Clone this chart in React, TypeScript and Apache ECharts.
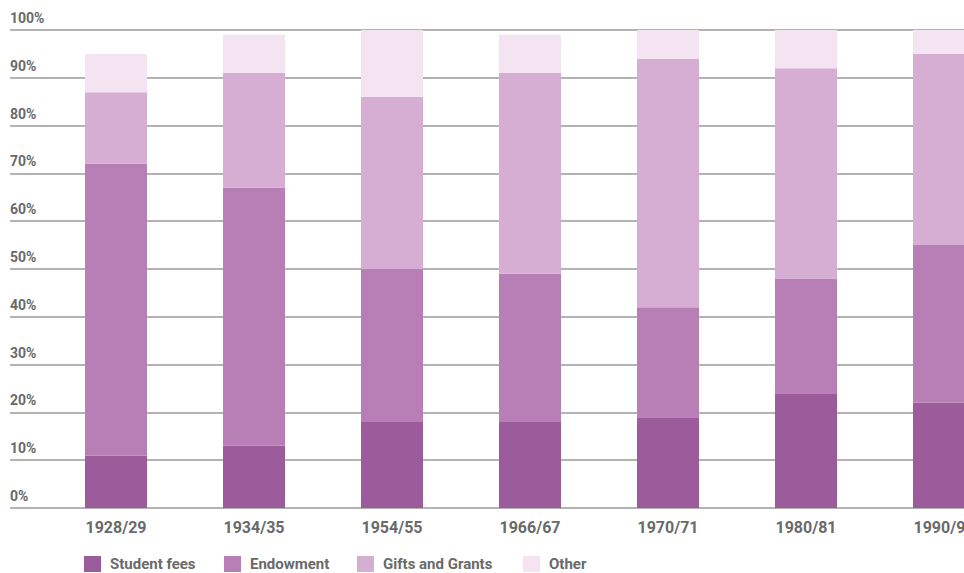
import React, { useEffect, useRef } from "react";
import * as echarts from "echarts";

const years = ["1928/29", "1934/35", "1954/55", "1966/67", "1970/71", "1980/81", "1990/91"];
const studentFees = [11, 13, 18, 18, 19, 24, 22];
const endowment = [61, 54, 32, 31, 23, 24, 33];
const giftsAndGrants = [15, 24, 36, 42, 52, 44, 40];
const other = [8, 8, 14, 8, 6, 8, 5];
const percentTicks = [0, 10, 20, 30, 40, 50, 60, 70, 80, 90, 100];

const FONT = "Roboto, 'Liberation Sans', sans-serif";
const TEXT = "#6a6a6a";

const seriesDefs = [
  { name: "Student fees", data: studentFees, color: "#9c5b9a", legendLeft: 84 },
  { name: "Endowment", data: endowment, color: "#b77fb5", legendLeft: 224 },
  { name: "Gifts and Grants", data: giftsAndGrants, color: "#d6aed4", legendLeft: 357 },
  { name: "Other", data: other, color: "#f4e3f1", legendLeft: 523 },
];

// The canvas runs wider than the window so the last column is cut by the edge.
const CANVAS_W = 1013;
const CANVAS_H = 573;

export default function App() {
  const ref = useRef<HTMLDivElement>(null);

  useEffect(() => {
    if (!ref.current) return;
    const chart = echarts.init(ref.current, undefined, { renderer: "svg" });
    chart.setOption({
      animation: false,
      backgroundColor: "#ffffff",
      textStyle: { fontFamily: FONT },
      grid: [
        // bars: 138px per category
        { left: 47, top: 30, height: 478, right: 0 },
        // percentage rules spanning the full width
        { left: 10, top: 30, height: 478, right: 0 },
      ],
      xAxis: [
        {
          type: "category",
          gridIndex: 0,
          data: years,
          axisLine: { show: false },
          axisTick: { show: false },
          axisLabel: {
            color: TEXT,
            fontFamily: FONT,
            fontWeight: "bold",
            fontSize: 16,
            margin: 11,
          },
        },
        {
          type: "value",
          gridIndex: 1,
          show: false,
          min: 0,
          max: 1,
        },
      ],
      yAxis: [
        {
          type: "value",
          gridIndex: 0,
          min: 0,
          max: 100,
          show: false,
        },
        {
          type: "value",
          gridIndex: 1,
          min: 0,
          max: 100,
          interval: 10,
          axisLine: { show: false },
          axisTick: { show: false },
          splitLine: { show: true, lineStyle: { color: "#9a9a9a", width: 1.5 } },
          axisLabel: {
            inside: true,
            margin: 0,
            verticalAlign: "bottom",
            padding: [0, 0, 5, 0],
            color: TEXT,
            fontFamily: FONT,
            fontWeight: "bold",
            fontSize: 14,
            customValues: percentTicks,
            formatter: (v: number) => `${v}%`,
          },
        },
      ],
      legend: seriesDefs.map((s) => ({
        left: s.legendLeft,
        top: 556,
        padding: 0,
        itemWidth: 17,
        itemHeight: 16,
        icon: "rect",
        textStyle: {
          color: TEXT,
          fontFamily: FONT,
          fontWeight: "bold",
          fontSize: 15,
          lineHeight: 16,
          padding: [0, 0, 0, 4],
        },
        data: [s.name],
      })),
      series: seriesDefs.map((s) => ({
        name: s.name,
        type: "bar",
        stack: "total",
        xAxisIndex: 0,
        yAxisIndex: 0,
        barWidth: 62,
        data: s.data,
        itemStyle: { color: s.color },
      })),
    });
    return () => chart.dispose();
  }, []);

  return (
    <div
      ref={ref}
      style={{ position: "fixed", left: 0, top: 0, width: CANVAS_W, height: CANVAS_H }}
    />
  );
}
